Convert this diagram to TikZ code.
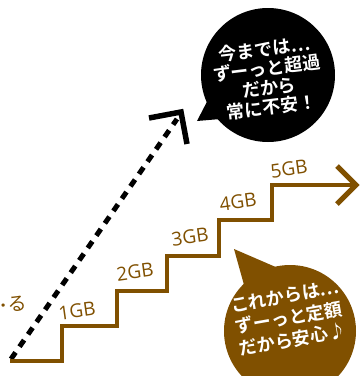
\documentclass[tikz,border=0pt]{standalone}
\usepackage{fontspec}
\setmainfont{Open Sans}
\newfontfamily\jpfont{Noto Sans CJK JP}[BoldFont={Noto Sans CJK JP Bold}]
\definecolor{brn}{RGB}{128,80,0}
\begin{document}
\begin{tikzpicture}[x=1pt,y=-1pt,
  stairline/.style={draw=brn,line width=4.5pt,line join=miter},
  gblabel/.style={text=brn,font=\fontsize{19}{19}\selectfont,rotate=8,inner sep=0pt},
  dashline/.style={draw=black,line width=5pt,dash pattern=on 8pt off 7pt},
  bubbletext/.style={text=white,align=center,inner sep=0pt}]
\clip (0,0) rectangle (360,376);
\fill[white] (0,0) rectangle (360,376);
% dashed arrow
\coordinate (ds) at (11,359);
\coordinate (de) at (177,119);
\coordinate (ha) at (149,118);
\coordinate (hc) at (181,112);
\coordinate (hb) at (187,144);
\draw[dashline] (ds) -- (de);
\draw[line width=5.5pt,line join=miter] (ha) -- (hc) -- (hb);
% staircase
\coordinate (s0) at (10,361);
\coordinate (s1) at (356,185);
\coordinate (t1) at (337,166);
\coordinate (t2) at (337,204);
\draw[stairline] (s0) -- (62,361) -- (62,326) -- (117,326) -- (117,291) -- (167,291) -- (167,256)
  -- (219,256) -- (219,220) -- (272,220) -- (272,185) -- (s1);
\draw[stairline,line width=5pt] (t1) -- (s1) -- (t2);
% labels
\node[gblabel] (g1) at (77,311) {1GB};
\node[gblabel] (g2) at (135,272) {2GB};
\node[gblabel] (g3) at (190,237) {3GB};
\node[gblabel] (g4) at (238,202) {4GB};
\node[gblabel] (g5) at (289,169) {5GB};
\node[text=brn,font=\jpfont\fontsize{19}{19}\selectfont,anchor=east,inner sep=0pt,rotate=5] (ru) at (27,303) {{\rmfamily\bfseries·}\hspace{2pt}る};
% black bubble
\fill[black] (268,75) circle (67);
\coordinate (bt) at (197,121);
\fill[black] (bt) -- (212,92) -- (232,118) -- cycle;
\node[bubbletext,rotate=7,font=\jpfont\bfseries\fontsize{18}{19.5}\selectfont] (bbt) at (268,78) {今までは…\\ずーっと超過\\だから\\常に不安！};
% brown bubble
\fill[brn] (290,331) circle (66);
\coordinate (ct) at (234,249);
\fill[brn] (ct) -- (246,292) -- (278,268) -- cycle;
\node[bubbletext,rotate=10,font=\jpfont\bfseries\fontsize{18}{22}\selectfont] (cbt) at (289,318) {これからは…\\ずーっと定額\\だから安心♪};
\end{tikzpicture}
\end{document}
